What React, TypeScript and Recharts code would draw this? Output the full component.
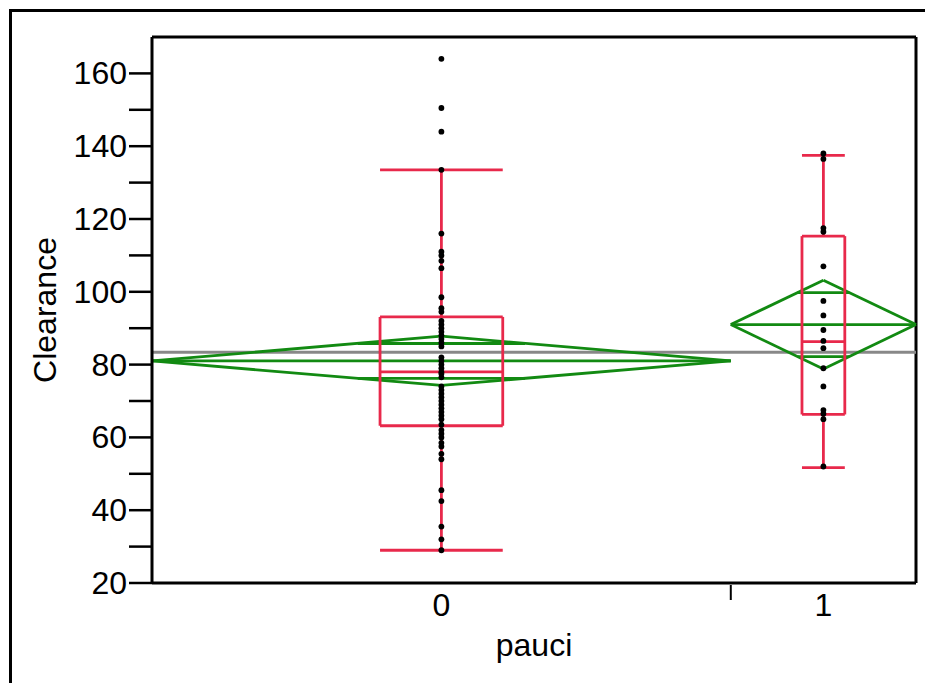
import React from 'react';
import { ComposedChart, XAxis, YAxis, Scatter, ReferenceLine } from 'recharts';

// ---- data ----
const groups = ['0', '1'];
const groupCounts = [50, 16];
const group0Values = [
  164, 150.5, 144, 133.5, 116, 111, 110, 108.5, 106.5, 98.5, 95.5, 94.5,
  92, 91, 90, 89, 88, 87, 86, 85, 82, 81, 80, 79, 78, 77.5, 76.5, 74, 73,
  72, 71, 70, 69, 68, 67, 66, 65, 63.5, 62, 61, 60, 58.5, 57.5, 55.5, 54,
  45.5, 42.5, 35.5, 32, 29,
];
const group1Values = [138, 136.5, 117.5, 116.5, 107, 97.5, 93.5, 89.5, 86.5, 84.5, 79, 74, 67.5, 66.5, 65, 52];
const means = [81, 91];
const ciLower = [74.3, 78.8];
const ciUpper = [87.8, 103.2];
const overlapLower = [76.2, 82.2];
const overlapUpper = [85.8, 99.8];
const q1 = [63.2, 66.3];
const medians = [78, 86.3];
const q3 = [93.1, 115.3];
const whiskerLow = [29, 51.7];
const whiskerHigh = [133.5, 137.5];
const grandMean = 83.4;
const yTicks = [20, 30, 40, 50, 60, 70, 80, 90, 100, 110, 120, 130, 140, 150, 160];

// ---- styling ----
const FONT = '"Liberation Sans", Arial, Helvetica, sans-serif';
const FS = 32;
const RED = '#e8294b';
const GREEN = '#128a12';
const GRAY = '#888888';
const LW = 2.8;
const BOX_WIDTHS = [10.6, 3.7];

const total = groupCounts[0] + groupCounts[1];
const starts = [0, groupCounts[0]];
const ends = [groupCounts[0], total];
const centers = [groupCounts[0] / 2, groupCounts[0] + groupCounts[1] / 2];
const xTicks = [centers[0], ends[0], centers[1]];

const dotData = [
  ...group0Values.map((v) => ({ x: centers[0], y: v })),
  ...group1Values.map((v) => ({ x: centers[1], y: v })),
];

const seg = (key: string, x1: number, y1: number, x2: number, y2: number, color: string, w: number) => (
  <ReferenceLine
    key={key}
    segment={[{ x: x1, y: y1 }, { x: x2, y: y2 }]}
    stroke={color}
    strokeWidth={w}
    ifOverflow="visible"
  />
);

const XTick = (props: any) => {
  const { x, y, payload } = props;
  const idx = centers.indexOf(payload.value);
  if (idx >= 0) {
    return (
      <text x={x} y={y + 33} textAnchor="middle" fontSize={FS} fontFamily={FONT} fill="#000">
        {groups[idx]}
      </text>
    );
  }
  return <line x1={x} x2={x} y1={y + 2} y2={y + 17} stroke="#000" strokeWidth={2} />;
};

const YTick = (props: any) => {
  const { x, y, payload } = props;
  if (payload.value % 20 !== 0) return <g />;
  return (
    <text x={x} y={y + 11} textAnchor="end" fontSize={FS} fontFamily={FONT} fill="#000">
      {payload.value}
    </text>
  );
};

export default function App() {
  const diamondEls: any[] = [];
  const boxEls: any[] = [];
  for (let i = 0; i < 2; i++) {
    const s = starts[i];
    const e = ends[i];
    const c = centers[i];
    const half = (ciUpper[i] - ciLower[i]) / 2;
    const hw = (e - s) / 2;
    // means diamond
    diamondEls.push(seg(`d1${i}`, s, means[i], c, ciUpper[i], GREEN, LW));
    diamondEls.push(seg(`d2${i}`, c, ciUpper[i], e, means[i], GREEN, LW));
    diamondEls.push(seg(`d3${i}`, e, means[i], c, ciLower[i], GREEN, LW));
    diamondEls.push(seg(`d4${i}`, c, ciLower[i], s, means[i], GREEN, LW));
    diamondEls.push(seg(`dm${i}`, s, means[i], e, means[i], GREEN, LW));
    const ou = hw * (1 - (overlapUpper[i] - means[i]) / half);
    const ol = hw * (1 - (means[i] - overlapLower[i]) / half);
    diamondEls.push(seg(`ou${i}`, c - ou, overlapUpper[i], c + ou, overlapUpper[i], GREEN, LW));
    diamondEls.push(seg(`ol${i}`, c - ol, overlapLower[i], c + ol, overlapLower[i], GREEN, LW));
    // box plot
    const bw = BOX_WIDTHS[i] / 2;
    boxEls.push(seg(`bt${i}`, c - bw, q3[i], c + bw, q3[i], RED, LW));
    boxEls.push(seg(`bb${i}`, c - bw, q1[i], c + bw, q1[i], RED, LW));
    boxEls.push(seg(`bl${i}`, c - bw, q1[i], c - bw, q3[i], RED, LW));
    boxEls.push(seg(`br${i}`, c + bw, q1[i], c + bw, q3[i], RED, LW));
    boxEls.push(seg(`bm${i}`, c - bw, medians[i], c + bw, medians[i], RED, LW));
    boxEls.push(seg(`wu${i}`, c, q3[i], c, whiskerHigh[i], RED, LW));
    boxEls.push(seg(`wl${i}`, c, q1[i], c, whiskerLow[i], RED, LW));
    boxEls.push(seg(`cu${i}`, c - bw, whiskerHigh[i], c + bw, whiskerHigh[i], RED, LW));
    boxEls.push(seg(`cl${i}`, c - bw, whiskerLow[i], c + bw, whiskerLow[i], RED, LW));
  }

  return (
    <div
      style={{
        position: 'absolute',
        left: 0,
        top: 0,
        width: 925,
        height: 683,
        overflow: 'hidden',
        background: '#fff',
      }}
    >
      <div
        style={{
          position: 'absolute',
          left: 9,
          top: 9,
          width: 1000,
          height: 1000,
          border: '3px solid #000',
        }}
      />
      <div style={{ position: 'absolute', left: 0, top: 0 }}>
        <ComposedChart width={925} height={683} margin={{ top: 37, right: 9, bottom: 0, left: 0 }}>
          <XAxis
            type="number"
            dataKey="x"
            domain={[0, total]}
            ticks={xTicks}
            interval={0}
            allowDataOverflow
            tickLine={false}
            tickSize={0}
            tickMargin={0}
            tick={<XTick />}
            axisLine={{ stroke: '#000', strokeWidth: 3 }}
            height={100}
            label={(p: any) => {
              const vb = p.viewBox || {};
              return (
                <text
                  x={vb.x + vb.width / 2}
                  y={vb.y + 73}
                  textAnchor="middle"
                  fontSize={FS}
                  fontFamily={FONT}
                  fill="#000"
                >
                  pauci
                </text>
              );
            }}
          />
          <YAxis
            type="number"
            dataKey="y"
            domain={[20, 170]}
            ticks={yTicks}
            interval={0}
            allowDataOverflow
            width={152}
            tickSize={23}
            tickMargin={2}
            tick={<YTick />}
            tickLine={{ stroke: '#000', strokeWidth: 2.5 }}
            axisLine={{ stroke: '#000', strokeWidth: 3 }}
            label={(p: any) => {
              const vb = p.viewBox || {};
              const cx = vb.x + 56;
              const cy = vb.y + vb.height / 2;
              return (
                <text
                  x={cx}
                  y={cy}
                  transform={`rotate(-90, ${cx}, ${cy})`}
                  textAnchor="middle"
                  fontSize={FS}
                  fontFamily={FONT}
                  fill="#000"
                >
                  Clearance
                </text>
              );
            }}
          />
          <ReferenceLine y={170} stroke="#000" strokeWidth={3} ifOverflow="visible" />
          <ReferenceLine x={total} stroke="#000" strokeWidth={3} ifOverflow="visible" />
          <ReferenceLine y={grandMean} stroke={GRAY} strokeWidth={3} />
          {diamondEls}
          {boxEls}
          <Scatter
            data={dotData}
            dataKey="y"
            isAnimationActive={false}
            shape={(p: any) => <circle cx={p.cx} cy={p.cy} r={2.9} fill="#000" />}
          />
        </ComposedChart>
      </div>
    </div>
  );
}
